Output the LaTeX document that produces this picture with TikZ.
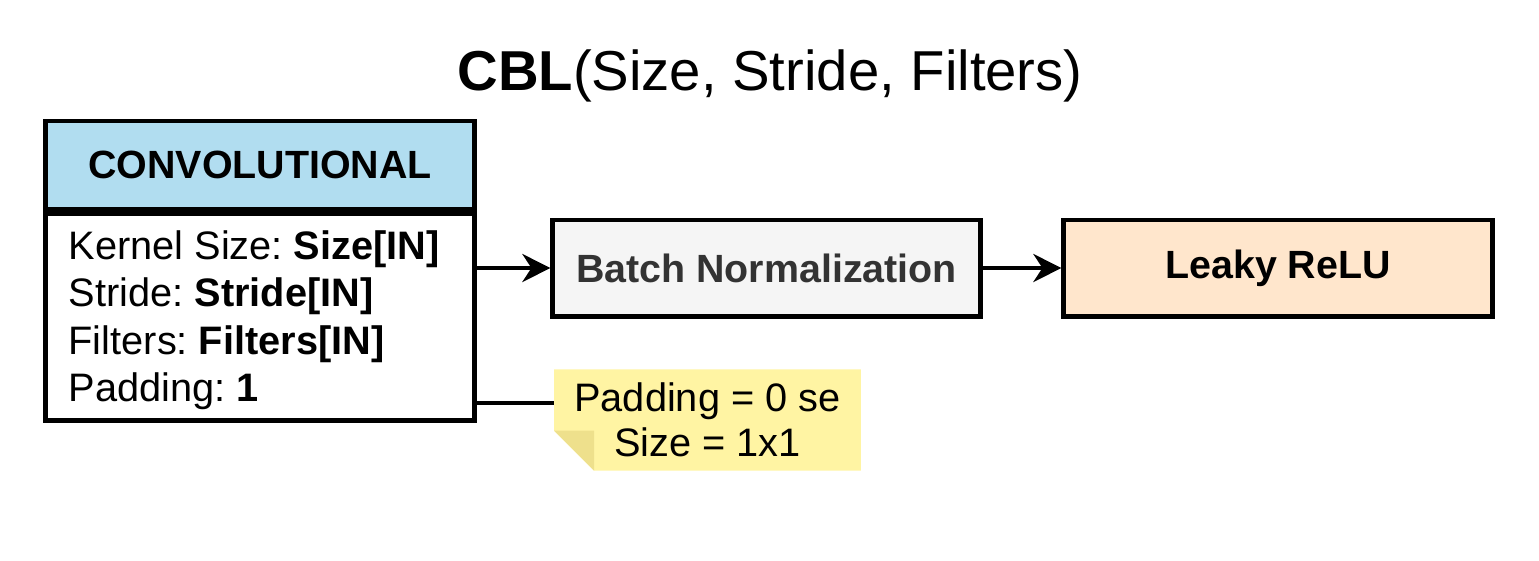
\documentclass[tikz,border=0pt]{standalone}
\usepackage{fontspec}
\setmainfont{Liberation Sans}
\usetikzlibrary{arrows.meta,positioning,backgrounds}
\frenchspacing
\definecolor{convblue}{HTML}{B1DDF0}
\definecolor{bngray}{HTML}{F5F5F5}
\definecolor{bntext}{HTML}{333333}
\definecolor{reluorange}{HTML}{FFE6CC}
\definecolor{noteyellow}{HTML}{FFF4A3}
\definecolor{notefold}{HTML}{EEE08C}
\tikzset{
  block/.style = {draw, line width=1.4pt, inner sep=0pt, align=center},
  flow/.style = {line width=0.9pt, -{Stealth[length=8pt,width=8pt,inset=2.6pt]}},
  bigfont/.style = {font=\fontsize{11.2}{13}\selectfont\bfseries}
}
\begin{document}
\begin{tikzpicture}[x=0.01cm, y=-0.01cm]
\useasboundingbox (0,0) rectangle (1539,560);
% title
\node [anchor=base, font=\fontsize{16}{19}\selectfont] (title) at (770,90) {\textbf{CBL}(Size, Stride, Filters)};
% convolutional block
\node [block, fill=convblue, bigfont, minimum width=4.28cm, minimum height=0.88cm] (convhead) at (260,165) {CONVOLUTIONAL};
\node [block, fill=white, minimum width=4.28cm, minimum height=2.06cm, below=0pt of convhead] (convbody) {};
\node [anchor=north west, inner sep=0pt, align=left, font=\fontsize{11.3}{13.5}\selectfont] (convtext) at (68,230)
  {Kernel Size: \textbf{Size[IN]}\\Stride: \textbf{Stride[IN]}\\Filters: \textbf{Filters[IN]}\\Padding: \textbf{1}};
% batch norm and activation
\node [block, fill=bngray, bigfont, text=bntext, minimum width=4.27cm, minimum height=0.96cm] (bn) at (766.5,268) {Batch Normalization};
\node [block, fill=reluorange, bigfont, minimum width=4.28cm, minimum height=0.96cm] (relu) at (1278,268) {Leaky ReLU};
\draw [flow] (convbody.east |- bn.west) -- (bn.west);
\draw [flow] (bn.east) -- (relu.west);
% note
\node [inner sep=0pt, minimum width=3.05cm, minimum height=1.0cm, align=center, font=\fontsize{11.3}{12.8}\selectfont] (note) at (707.5,420) {Padding = 0 se\\Size = 1x1};
\begin{scope}[on background layer]
\fill [noteyellow] (note.north west) -- (note.north east) -- (note.south east) -- ([xshift=0.4cm]note.south west) -- ([yshift=0.4cm]note.south west) -- cycle;
\fill [notefold] ([yshift=0.4cm]note.south west) -- ([xshift=0.4cm,yshift=0.4cm]note.south west) -- ([xshift=0.4cm]note.south west) -- cycle;
\end{scope}
\coordinate (tie) at (note.west |- 0,403);
\draw [line width=0.9pt] (convbody.east |- tie) -- (tie);
\end{tikzpicture}
\end{document}
